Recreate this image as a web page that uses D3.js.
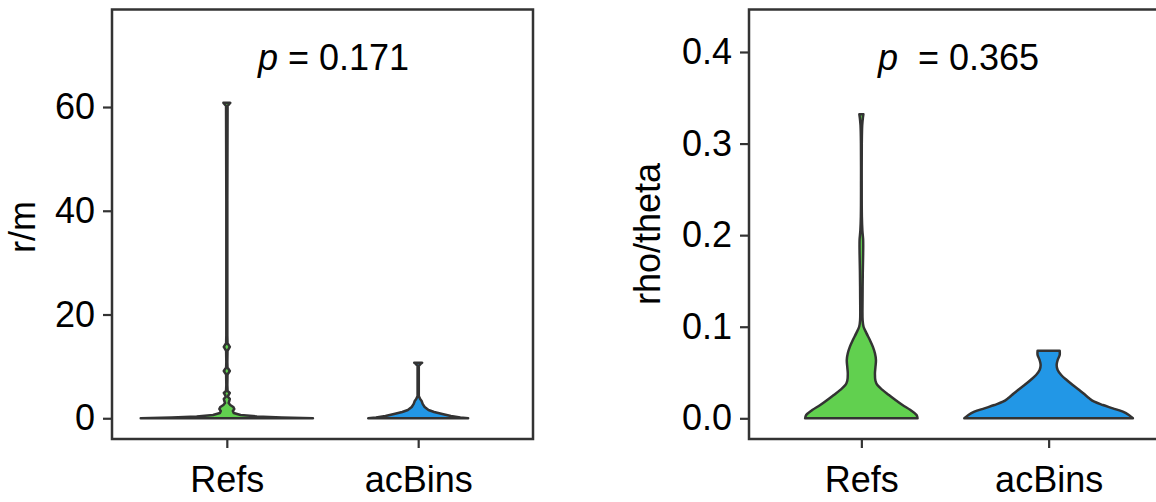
<!DOCTYPE html>
<html>
<head>
<meta charset="utf-8">
<script src="https://cdn.jsdelivr.net/npm/d3@7"></script>
<style>
  html, body { margin: 0; padding: 0; background: #ffffff; }
  svg { display: block; }
  text { font-family: "Liberation Sans", Arial, Helvetica, sans-serif; fill: #000; }
</style>
</head>
<body>
<svg id="chart" width="1156" height="502"></svg>
<script>
// ---- categories ----
const categories = ["Refs", "acBins"];
const fillColors = ["#61D04F", "#2297E6"];

// ---- panel 1: r/m violins (value, relative density) ----
const rmRefsValue   = [0, 0.15, 0.35, 0.64, 1.02, 1.41, 1.79, 2.18, 2.56, 2.95, 3.33, 3.72, 4.1, 4.39, 4.88, 5.26, 6.4, 8.44, 9.12, 9.79, 10.85, 12.97, 13.74, 14.5, 16, 42, 60.2, 60.6, 60.8];
const rmRefsDensity = [1.0, 0.64, 0.35, 0.16, 0.08, 0.07, 0.087, 0.075, 0.04, 0.021, 0.029, 0.035, 0.014, 0.017, 0.035, 0.009, 0.006, 0.008, 0.035, 0.008, 0.006, 0.008, 0.035, 0.008, 0.006, 0.006, 0.009, 0.029, 0.04];
const rmAcBinsValue   = [0, 0.15, 0.44, 0.83, 1.21, 1.6, 2.18, 2.76, 3.33, 3.7, 4.3, 10.1, 10.5, 10.7];
const rmAcBinsDensity = [0.58, 0.49, 0.38, 0.28, 0.185, 0.12, 0.075, 0.052, 0.04, 0.023, 0.007, 0.007, 0.029, 0.046];
const rmTicks = [0, 20, 40, 60];
const rmLabel = "r/m";
const rmP = "0.171";

// ---- panel 2: rho/theta violins (value, relative density) ----
const rhoRefsValue   = [0, 0.0036, 0.009, 0.0145, 0.02, 0.0255, 0.031, 0.0363, 0.041, 0.049, 0.056, 0.0637, 0.071, 0.078, 0.0855, 0.093, 0.1, 0.107, 0.13, 0.16, 0.18, 0.195, 0.205, 0.22, 0.26, 0.3, 0.32, 0.328, 0.332];
const rhoRefsDensity = [0.667, 0.655, 0.583, 0.488, 0.405, 0.327, 0.25, 0.19, 0.167, 0.161, 0.167, 0.173, 0.161, 0.137, 0.101, 0.06, 0.026, 0.015, 0.014, 0.017, 0.021, 0.021, 0.012, 0.006, 0.004, 0.005, 0.01, 0.018, 0.024];
const rhoAcBinsValue   = [0, 0.0036, 0.0072, 0.0109, 0.0145, 0.0181, 0.0218, 0.0254, 0.0309, 0.0363, 0.0418, 0.0473, 0.0527, 0.0582, 0.0636, 0.0691, 0.0738];
const rhoAcBinsDensity = [1.0, 0.952, 0.881, 0.762, 0.643, 0.542, 0.482, 0.435, 0.363, 0.286, 0.214, 0.149, 0.107, 0.095, 0.107, 0.131, 0.131];
const rhoTicks = [0, 0.1, 0.2, 0.3, 0.4];
const rhoLabel = "rho/theta";
const rhoP = "0.365";

const svg = d3.select("#chart");
const INK = "#333333";
const FONT = 36;

function zip(vals, dens) { return vals.map((v, i) => ({ v: v, d: dens[i] })); }

function drawPanel(opt) {
  const g = svg.append("g");
  const x = d3.scalePoint().domain(categories).range([opt.left, opt.right]).padding(0.6);
  const y = d3.scaleLinear().domain(opt.yDomain).range([opt.bottom, opt.top]);
  const halfW = d3.scaleLinear().domain([0, 1]).range([0, x.step() * 0.45]);

  // violins
  opt.series.forEach((s, i) => {
    const cx = x(categories[i]);
    const area = d3.area()
      .y(d => y(d.v))
      .x0(d => cx - halfW(d.d))
      .x1(d => cx + halfW(d.d))
      .curve(opt.curve);
    g.append("path")
      .datum(s)
      .attr("d", area)
      .attr("fill", fillColors[i])
      .attr("stroke", INK)
      .attr("stroke-width", 2.5)
      .attr("stroke-linejoin", "round");
  });

  // panel border
  g.append("rect")
    .attr("x", opt.left).attr("y", opt.top)
    .attr("width", opt.right - opt.left).attr("height", opt.bottom - opt.top)
    .attr("fill", "none").attr("stroke", INK).attr("stroke-width", 2.5);

  // y axis
  const ya = g.append("g")
    .attr("transform", `translate(${opt.left},0)`)
    .call(d3.axisLeft(y).tickValues(opt.ticks).tickFormat(opt.fmt).tickSize(9).tickPadding(8));
  ya.select(".domain").remove();
  ya.selectAll(".tick line").attr("stroke", INK).attr("stroke-width", 2.2);
  ya.selectAll(".tick text").attr("font-size", FONT).attr("fill", "#000")
    .style("font-family", "'Liberation Sans', Arial, sans-serif");

  // x axis
  const xa = g.append("g")
    .attr("transform", `translate(0,${opt.bottom})`)
    .call(d3.axisBottom(x).tickSize(9));
  xa.select(".domain").remove();
  xa.selectAll(".tick line").attr("stroke", INK).attr("stroke-width", 2.2);
  xa.selectAll(".tick text").attr("font-size", FONT).attr("fill", "#000")
    .attr("dy", 0).attr("y", 53)
    .style("font-family", "'Liberation Sans', Arial, sans-serif");

  // y axis title
  g.append("text")
    .attr("transform", `translate(${opt.titleX},${opt.titleY}) rotate(-90)`)
    .attr("text-anchor", "middle")
    .attr("font-size", FONT)
    .text(opt.label);

  // p-value annotation
  const t = g.append("text")
    .attr("x", opt.pX).attr("y", 70)
    .attr("font-size", FONT)
    .attr("text-anchor", "start")
    .style("white-space", "pre");
  t.append("tspan").attr("font-style", "italic").text("p");
  t.append("tspan").attr("dx", opt.pGap).text("= " + opt.p);
}

drawPanel({
  left: 112, right: 533, top: 9.5, bottom: 439,
  yDomain: [-4.0, 78.8],
  ticks: rmTicks, fmt: d3.format("d"),
  series: [zip(rmRefsValue, rmRefsDensity), zip(rmAcBinsValue, rmAcBinsDensity)],
  curve: d3.curveLinear,
  label: rmLabel, titleX: 35, titleY: 227,
  p: rmP, pX: 258, pGap: 10
});

drawPanel({
  left: 749, right: 1161, top: 9.5, bottom: 439,
  yDomain: [-0.0226, 0.4464],
  ticks: rhoTicks, fmt: d3.format(".1f"),
  series: [zip(rhoRefsValue, rhoRefsDensity), zip(rhoAcBinsValue, rhoAcBinsDensity)],
  curve: d3.curveCatmullRom.alpha(0.5),
  label: rhoLabel, titleX: 660, titleY: 234,
  p: rhoP, pX: 878, pGap: 20
});
</script>
</body>
</html>
